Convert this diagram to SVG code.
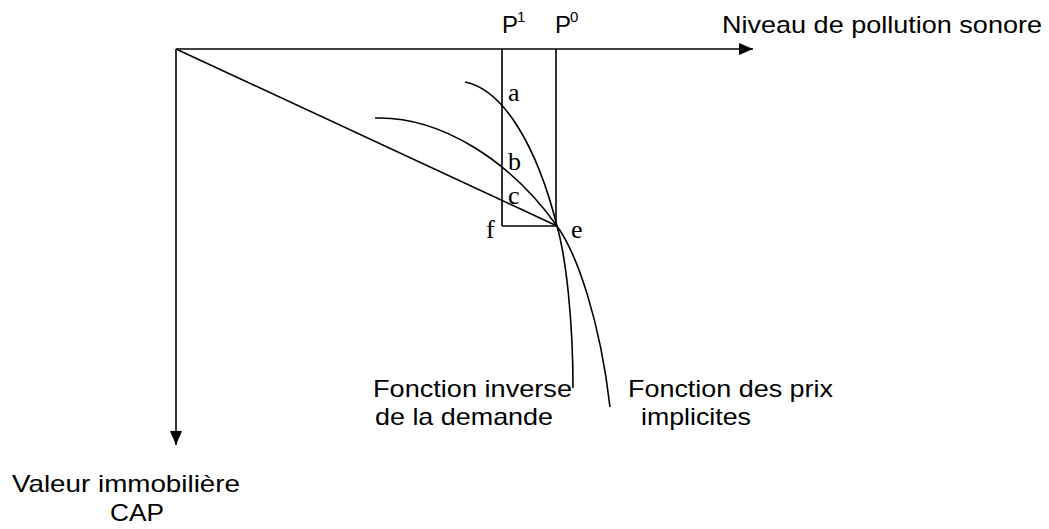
<svg xmlns="http://www.w3.org/2000/svg" width="1049" height="529" viewBox="0 0 1049 529">
<style>
.ln{fill:none;stroke:#000;stroke-width:1.6}
.sans{font-family:"Liberation Sans",Arial,sans-serif;font-size:24px;fill:#000}
.sup{font-family:"Liberation Sans",Arial,sans-serif;font-size:15px;fill:#000}
.ser{font-family:"Liberation Serif","Times New Roman",serif;font-size:26px;fill:#000}
</style>
<defs>
<marker id="arr" markerWidth="14" markerHeight="12" refX="14" refY="6" orient="auto" markerUnits="userSpaceOnUse">
<path d="M0,0 L14,6 L0,12 Z" fill="#000"/>
</marker>
</defs>
<g id="connectors">
<line id="x-axis" class="ln" x1="176" y1="49" x2="753" y2="49" marker-end="url(#arr)"/>
<line id="y-axis" class="ln" x1="176" y1="49" x2="176" y2="445" marker-end="url(#arr)"/>
<line id="chord" class="ln" x1="176" y1="49" x2="557" y2="226"/>
<line id="p1-line" class="ln" x1="502" y1="49" x2="502" y2="226"/>
<line id="p0-line" class="ln" x1="556" y1="49" x2="556" y2="226"/>
<line id="fe-line" class="ln" x1="502" y1="226" x2="557" y2="226"/>
<path id="demand-curve" class="ln" d="M465,82 C505,90 538,150 557,226 C566,258 573,320 573,388"/>
<path id="price-curve" class="ln" d="M375,118 C440,116 510,160 557,226 C577,254 600,320 610,407"/>
</g>
<g id="axis-x-label"><text class="sans" x="722" y="33" textLength="320" lengthAdjust="spacingAndGlyphs">Niveau de pollution sonore</text></g>
<g id="p1"><text class="sans" x="502" y="33">P</text><text class="sup" x="517" y="22">1</text></g>
<g id="p0"><text class="sans" x="555" y="33">P</text><text class="sup" x="570" y="22">0</text></g>
<g id="point-a"><text class="ser" x="508" y="101">a</text></g>
<g id="point-b"><text class="ser" x="508" y="170">b</text></g>
<g id="point-c"><text class="ser" x="508" y="204">c</text></g>
<g id="point-f"><text class="ser" x="486" y="238">f</text></g>
<g id="point-e"><text class="ser" x="571" y="238">e</text></g>
<g id="demand-label"><text class="sans" x="373" y="397" textLength="199" lengthAdjust="spacingAndGlyphs">Fonction inverse</text><text class="sans" x="375" y="425" textLength="178" lengthAdjust="spacingAndGlyphs">de la demande</text></g>
<g id="price-label"><text class="sans" x="628" y="397" textLength="205" lengthAdjust="spacingAndGlyphs">Fonction des prix</text><text class="sans" x="641" y="425" textLength="110" lengthAdjust="spacingAndGlyphs">implicites</text></g>
<g id="axis-y-label"><text class="sans" x="12" y="492" textLength="228" lengthAdjust="spacingAndGlyphs">Valeur immobilière</text><text class="sans" x="110" y="521" textLength="54" lengthAdjust="spacingAndGlyphs">CAP</text></g>
</svg>
